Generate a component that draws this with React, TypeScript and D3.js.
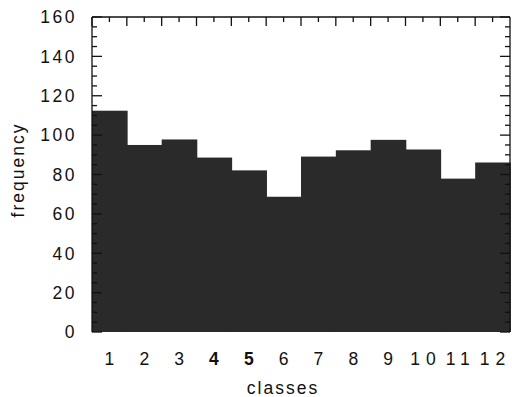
import React from 'react';
import * as d3 from 'd3';
import {useEffect, useRef} from 'react';

const classes: string[] = ['1', '2', '3', '4', '5', '6', '7', '8', '9', '10', '11', '12'];
const frequency: number[] = [112.4, 95, 97.8, 88.6, 82.1, 68.7, 89.1, 92.3, 97.6, 92.7, 77.9, 86.1];
const yTicks: number[] = [0, 20, 40, 60, 80, 100, 120, 140, 160];
const boldLabels: string[] = ['4', '5'];

const width = 512;
const height = 397;
const font = '"Liberation Sans", Arial, Helvetica, sans-serif';

const App = () => {
    const chartRef = useRef<SVGSVGElement | null>(null);

    useEffect((): void => {
        const svg = d3.select(chartRef.current);
        svg.selectAll('*').remove();

        const left = 92, right = 510, top = 17, bottom = 332;

        const xScale = d3.scaleBand<string>()
                        .domain(classes)
                        .range([left, right])
                        .padding(0);

        const yScale = d3.scaleLinear()
                        .domain([0, 160])
                        .range([bottom, top]);

        // bars (slightly widened so neighbours meet without a seam)
        svg.append('g')
            .selectAll('rect')
            .data(frequency)
            .enter()
            .append('rect')
            .attr('x', (d, i) => xScale(classes[i]) as number)
            .attr('y', d => yScale(d))
            .attr('width', xScale.bandwidth() + 0.8)
            .attr('height', d => bottom - yScale(d))
            .attr('fill', '#2a2a2a');

        const axisColor = '#111';

        // frame: left, top, right lines
        const frame = svg.append('g').attr('stroke', axisColor).attr('stroke-width', 1.3).attr('fill', 'none');
        frame.append('line').attr('x1', left).attr('x2', left).attr('y1', top).attr('y2', bottom);
        frame.append('line').attr('x1', left).attr('x2', right).attr('y1', top).attr('y2', top);
        frame.append('line').attr('x1', right).attr('x2', right).attr('y1', top).attr('y2', bottom);

        // left and right ticks, major every 20, minor every 5
        const minorY = d3.range(0, 161, 5);
        minorY.forEach(v => {
            const major = v % 20 === 0;
            const len = major ? 10 : 5;
            frame.append('line')
                .attr('x1', left).attr('x2', left + len)
                .attr('y1', yScale(v)).attr('y2', yScale(v));
            frame.append('line')
                .attr('x1', right).attr('x2', right - len)
                .attr('y1', yScale(v)).attr('y2', yScale(v));
        });

        // top ticks, major on bar edges, minor on bar centres
        classes.forEach(c => {
            const x0 = xScale(c) as number;
            frame.append('line').attr('x1', x0).attr('x2', x0).attr('y1', top).attr('y2', top + 9);
            const xm = x0 + xScale.bandwidth() / 2;
            frame.append('line').attr('x1', xm).attr('x2', xm).attr('y1', top).attr('y2', top + 5);
        });

        // y tick labels
        svg.append('g')
            .selectAll('text')
            .data(yTicks)
            .enter()
            .append('text')
            .attr('x', 77)
            .attr('y', d => yScale(d))
            .attr('dy', '0.36em')
            .style('text-anchor', 'end')
            .style('font-family', font)
            .style('font-size', '17.5px')
            .style('letter-spacing', '2.5px')
            .style('fill', '#111')
            .text(d => d);

        // x tick labels
        svg.append('g')
            .selectAll('text')
            .data(classes)
            .enter()
            .append('text')
            .attr('x', d => (xScale(d) as number) + xScale.bandwidth() / 2 + 3)
            .attr('y', 365)
            .style('text-anchor', 'middle')
            .style('font-family', font)
            .style('font-size', '17.5px')
            .style('font-weight', d => boldLabels.includes(d) ? 'bold' : 'normal')
            .style('letter-spacing', '6px')
            .style('fill', '#111')
            .text(d => d);

        svg.append('text')
            .attr('x', 283)
            .attr('y', 394)
            .style('text-anchor', 'middle')
            .style('font-family', font)
            .style('font-size', '17.5px')
            .style('letter-spacing', '2px')
            .style('fill', '#111')
            .text('classes');

        svg.append('text')
            .attr('transform', 'translate(24, 170) rotate(-90)')
            .style('text-anchor', 'middle')
            .style('font-family', font)
            .style('font-size', '17.5px')
            .style('letter-spacing', '2px')
            .style('fill', '#111')
            .text('frequency');

    }, []);

    return(
        <svg ref={chartRef} width={width} height={height}
             style={{position: 'absolute', left: 0, top: 0, background: '#fff'}}></svg>
    )
}

export default App
